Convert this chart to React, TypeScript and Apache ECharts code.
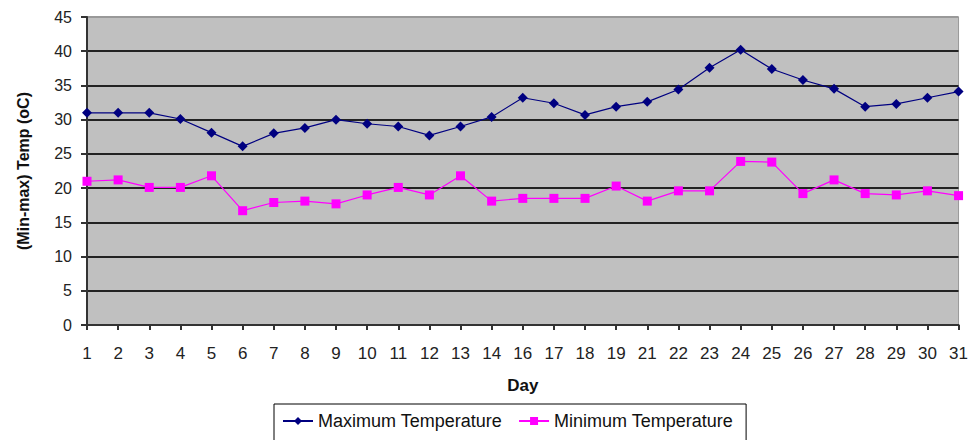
import React, { useEffect, useRef } from "react";
import * as echarts from "echarts";

const days = ["1","2","3","4","5","6","7","8","9","10","11","12","13","14","16","17","18","19","21","22","23","24","25","26","27","28","29","30","31"];
const maxTemp = [31,31,31,30.1,28.1,26.1,28,28.8,30,29.4,29,27.7,29,30.4,33.2,32.4,30.7,31.9,32.6,34.4,37.6,40.2,37.4,35.8,34.5,31.9,32.3,33.2,34.1];
const minTemp = [21,21.2,20.1,20.1,21.8,16.7,17.9,18.1,17.7,19,20.1,19,21.8,18.1,18.5,18.5,18.5,20.3,18.1,19.6,19.6,23.9,23.8,19.2,21.2,19.2,19,19.6,18.9];
const yTicks = { min: 0, max: 45, interval: 5 };

const FONT = "'Liberation Sans', Arial, sans-serif";

export default function App() {
  const ref = useRef<HTMLDivElement>(null);
  useEffect(() => {
    const chart = echarts.init(ref.current!, null, { renderer: "svg" });
    const splitColors = ["#222", "#222", "#222", "#222", "#222", "#222", "#222", "#222", "#222", "#999"];
    chart.setOption({
      animation: false,
      backgroundColor: "#ffffff",
      grid: {
        left: 87, top: 17, right: 11, bottom: 115,
        show: true, backgroundColor: "#c0c0c0", borderColor: "#999", borderWidth: 1,
      },
      legend: {
        left: 274, top: 404, width: 474,
        padding: [8, 13, 20, 8],
        borderColor: "#000", borderWidth: 1,
        itemWidth: 30, itemHeight: 10, itemGap: 16,
        textStyle: { fontFamily: FONT, fontSize: 18, color: "#111" },
        data: ["Maximum Temperature", "Minimum Temperature"],
      },
      xAxis: {
        type: "category",
        data: days,
        boundaryGap: false,
        name: "Day",
        nameLocation: "middle",
        nameGap: 52,
        nameTextStyle: { fontFamily: FONT, fontSize: 17, fontWeight: "bold", color: "#111" },
        axisLine: { show: true, lineStyle: { color: "#333", width: 2 } },
        axisTick: { show: true, inside: false, length: 5, lineStyle: { color: "#333", width: 2 } },
        axisLabel: { fontFamily: FONT, fontSize: 17, color: "#222", margin: 20 },
        splitLine: { show: false },
      },
      yAxis: {
        type: "value",
        min: yTicks.min, max: yTicks.max, interval: yTicks.interval,
        name: "(Min-max) Temp (oC)",
        nameLocation: "middle",
        nameGap: 56,
        nameTextStyle: { fontFamily: FONT, fontSize: 16, fontWeight: "bold", color: "#111" },
        axisLine: { show: true, lineStyle: { color: "#333", width: 2 } },
        axisTick: { show: true, inside: false, length: 6, lineStyle: { color: "#333", width: 2 } },
        axisLabel: { fontFamily: FONT, fontSize: 16, color: "#222", margin: 15 },
        splitLine: { show: true, lineStyle: { color: splitColors, width: 2 } },
      },
      series: [
        {
          name: "Maximum Temperature",
          type: "line",
          data: maxTemp,
          symbol: "diamond",
          symbolSize: 10,
          lineStyle: { color: "#000080", width: 1.2 },
          itemStyle: { color: "#000080" },
        },
        {
          name: "Minimum Temperature",
          type: "line",
          data: minTemp,
          symbol: "rect",
          symbolSize: 9,
          lineStyle: { color: "#ff00ff", width: 1.2 },
          itemStyle: { color: "#ff00ff" },
        },
      ],
    });
    return () => chart.dispose();
  }, []);
  return <div ref={ref} style={{ width: 971, height: 440, position: "absolute", left: 0, top: 0 }} />;
}
